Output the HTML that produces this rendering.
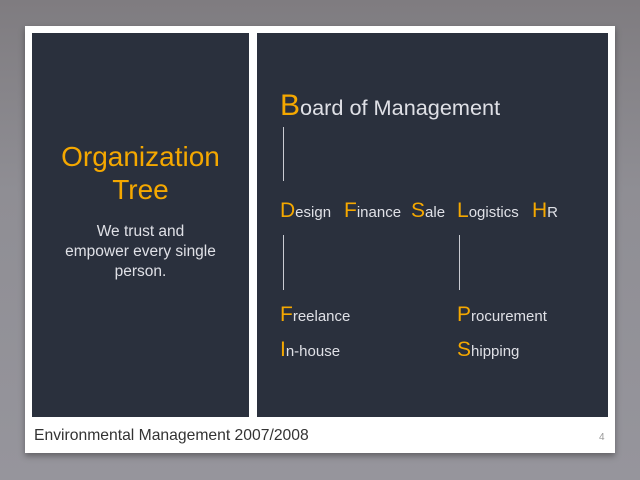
<!DOCTYPE html>
<html><head><meta charset="utf-8"><style>
body{margin:0;width:640px;height:480px;overflow:hidden;background:linear-gradient(#7f7c80,#8f8e94 40%,#96959c);font-family:"Liberation Sans",sans-serif;position:relative}
.abs{position:absolute}
.card{left:25px;top:26px;width:590px;height:427px;background:#fff;box-shadow:0 3px 6px rgba(0,0,0,.35)}
.panel{background:#2a303d}
.y{color:#f5a800}
.w{color:#dfe0e6;white-space:nowrap}
.vl{width:1px;background:#c9cbd2}
.d{top:199px;font-size:15px}
.d .y{font-size:21px}
</style></head><body>
<div class="abs card"></div>
<div class="abs panel" style="left:32px;top:33px;width:217px;height:384px">
 <div class="abs y" style="left:0;width:217px;top:107px;text-align:center;font-size:28px;line-height:33px">Organization<br>Tree</div>
 <div class="abs w" style="left:0;width:217px;top:189px;text-align:center;font-size:15.5px;line-height:20px;white-space:normal">We trust and<br>empower every single<br>person.</div>
</div>
<div class="abs panel" style="left:257px;top:33px;width:351px;height:384px"></div>
<div class="abs w" style="left:280px;top:89px;font-size:21.7px"><span class="y" style="font-size:30px">B</span>oard of Management</div>
<div class="abs vl" style="left:283px;top:127px;height:54px"></div>
<div class="abs w d" style="left:280px"><span class="y">D</span>esign</div>
<div class="abs w d" style="left:344px"><span class="y">F</span>inance</div>
<div class="abs w d" style="left:411px"><span class="y">S</span>ale</div>
<div class="abs w d" style="left:457px"><span class="y">L</span>ogistics</div>
<div class="abs w d" style="left:532px"><span class="y">H</span>R</div>
<div class="abs vl" style="left:283px;top:235px;height:55px"></div>
<div class="abs vl" style="left:459px;top:235px;height:55px"></div>
<div class="abs w" style="left:280px;top:303px;font-size:15px"><span class="y" style="font-size:21px">F</span>reelance</div>
<div class="abs w" style="left:280px;top:338px;font-size:15px"><span class="y" style="font-size:21px">I</span>n-house</div>
<div class="abs w" style="left:457px;top:303px;font-size:15px"><span class="y" style="font-size:21px">P</span>rocurement</div>
<div class="abs w" style="left:457px;top:338px;font-size:15px"><span class="y" style="font-size:21px">S</span>hipping</div>
<div class="abs" style="left:34px;top:427px;font-size:15.7px;color:#333">Environmental Management 2007/2008</div>
<div class="abs" style="left:599px;top:432px;font-size:10px;color:#999">4</div>
</body></html>
